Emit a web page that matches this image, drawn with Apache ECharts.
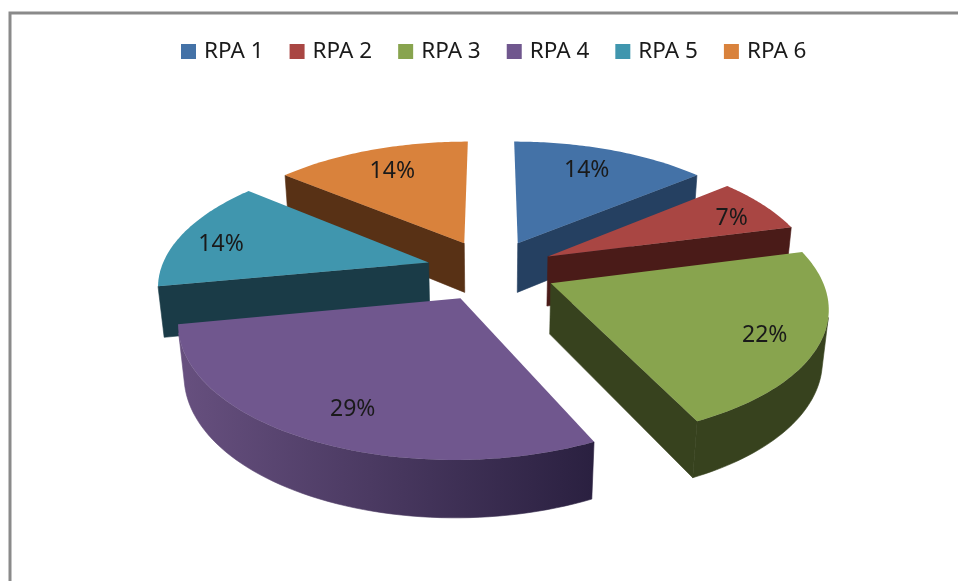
<!DOCTYPE html>
<html>
<head>
<meta charset="utf-8">
<title>RPA</title>
<script src="https://cdn.jsdelivr.net/npm/echarts@6/dist/echarts.min.js"></script>
<style>
	html, body { margin: 0; padding: 0; background: #fff; }
	#chart { width: 958px; height: 581px; }
</style>
</head>
<body>
<div id="chart"></div>
<script>
var categories = ['RPA 1', 'RPA 2', 'RPA 3', 'RPA 4', 'RPA 5', 'RPA 6'];
var percents = [14, 7, 22, 29, 14, 14];

var topColors = ['#4472a7', '#a94643', '#88a44e', '#70578e', '#4096ae', '#d9823c'];
var wallLeft = ['#254061', '#4a1b18', '#37421e', '#67507f', '#1a3b47', '#583115'];
var wallRight = ['#254061', '#4a1b18', '#37421e', '#2a2040', '#1a3b47', '#583115'];
// where the labels sit on each slice: share of the radius, degrees off the middle
var labelFrac = [0.78, 0.83, 0.81, 0.78, 0.83, 0.78];
var labelTurn = [-2, 1.5, 1, -2, -2, 1];

// view of the tilted pie
var CX = 491, CY = 270, R = 268, EXPLODE = 65, DEPTH = 58;
var TILT = 28 * Math.PI / 180, DIST = 1480;

var total = percents.reduce(function (a, b) { return a + b; }, 0);

function project(x, y, z) {
	var d = y * Math.cos(TILT) + z * Math.sin(TILT);
	var s = DIST / (DIST - d);
	return [CX + x * s, CY + (y * Math.sin(TILT) - z * Math.cos(TILT)) * s];
}

function shoelace(p) {
	var a = 0;
	for (var i = 0; i < p.length; i++) {
		var q = p[(i + 1) % p.length];
		a += p[i][0] * q[1] - q[0] * p[i][1];
	}
	return a;
}

function sliceAngles(idx) {
	var before = 0;
	for (var i = 0; i < idx; i++) before += percents[i];
	return [before / total * 2 * Math.PI, (before + percents[idx]) / total * 2 * Math.PI];
}

function renderSlice(idx) {
	return function (params, api) {
		var a = sliceAngles(idx);
		var mid = (a[0] + a[1]) / 2;
		var ox = Math.sin(mid) * EXPLODE, oy = -Math.cos(mid) * EXPLODE;
		var rim = function (t, z) {
			return project(ox + Math.sin(t) * R, oy - Math.cos(t) * R, z);
		};
		var apexT = project(ox, oy, 0), apexB = project(ox, oy, -DEPTH);
		var children = [];

		function wall(t, sign) {
			var pts = [apexT, rim(t, 0), rim(t, -DEPTH), apexB];
			// slivers of walls seen almost edge on are left out
			if (shoelace(pts) * sign > 3000) {
				children.push({
					type: 'polygon',
					shape: { points: pts },
					style: { fill: wallRight[idx], stroke: wallRight[idx], lineWidth: 0.6 }
				});
			}
		}
		wall(a[0], -1);
		wall(a[1], 1);

		// outer rim, only the part that faces the viewer
		var steps = 60, front = [], back = [];
		for (var i = 0; i < steps; i++) {
			var t0 = a[0] + (a[1] - a[0]) * i / steps;
			var t1 = a[0] + (a[1] - a[0]) * (i + 1) / steps;
			var quad = [rim(t0, 0), rim(t1, 0), rim(t1, -DEPTH), rim(t0, -DEPTH)];
			if (shoelace(quad) < 0) {
				if (!front.length) { front.push(quad[0]); back.push(quad[3]); }
				front.push(quad[1]);
				back.push(quad[2]);
			}
		}
		if (front.length) {
			var xs = front.map(function (p) { return p[0]; });
			var x0 = Math.min.apply(null, xs), x1 = Math.max.apply(null, xs);
			var shade = new echarts.graphic.LinearGradient(x0, 0, x1, 0, [
				{ offset: 0, color: wallLeft[idx] },
				{ offset: 1, color: wallRight[idx] }
			], true);
			children.push({
				type: 'polygon',
				shape: { points: front.concat(back.reverse()) },
				style: { fill: shade, stroke: shade, lineWidth: 0.6 }
			});
		}

		// top face
		var face = [apexT];
		for (var j = 0; j <= steps; j++) {
			face.push(rim(a[0] + (a[1] - a[0]) * j / steps, 0));
		}
		children.push({
			type: 'polygon',
			shape: { points: face },
			style: { fill: api.visual('color') }
		});

		var f = labelFrac[idx] * R;
		var la = mid + labelTurn[idx] * Math.PI / 180;
		var lp = project(ox + Math.sin(la) * f, oy - Math.cos(la) * f, 0);
		children.push({
			type: 'text',
			x: lp[0],
			y: lp[1] + 3,
			style: {
				text: api.value(0) + '%',
				fill: '#1a1a1a',
				font: '23px "Noto Sans"',
				align: 'center',
				verticalAlign: 'middle'
			}
		});
		return { type: 'group', children: children };
	};
}

var series = categories.map(function (name, idx) {
	var a = sliceAngles(idx);
	return {
		name: name,
		type: 'custom',
		coordinateSystem: 'none',
		// painter's order: slices further back are drawn first
		z: Math.round(10 - Math.cos((a[0] + a[1]) / 2) * 5),
		renderItem: renderSlice(idx),
		data: [[percents[idx]]],
		silent: true
	};
});

var chart = echarts.init(document.getElementById('chart'), null, { renderer: 'canvas' });
chart.setOption({
	animation: false,
	color: topColors,
	legend: {
		left: 181,
		top: 40,
		padding: 0,
		icon: 'rect',
		itemWidth: 15,
		itemHeight: 15,
		itemGap: 26,
		textStyle: { fontFamily: 'Noto Sans', fontSize: 22.5, color: '#1a1a1a', padding: [0, 0, 0, 3] },
		data: categories
	},
	graphic: [{
		type: 'polyline',
		shape: { points: [[10, 581], [10, 13], [958, 13]] },
		style: { stroke: '#8a8a8a', lineWidth: 3, fill: null }
	}],
	series: series
});

window.onresize = function () {
	chart.resize();
};
</script>
</body>
</html>
